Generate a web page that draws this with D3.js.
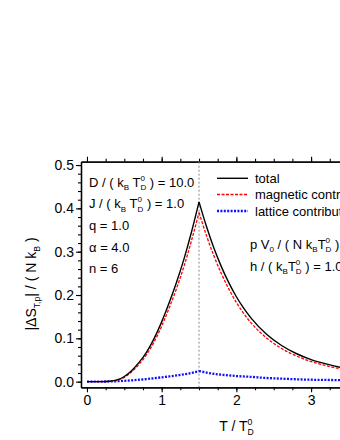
<!DOCTYPE html>
<meta charset="utf-8">
<script src="https://d3js.org/d3.v7.min.js"></script>
<style>
  body { margin: 0; background: #fff; }
  text { font-family: "Liberation Sans", Arial, sans-serif; fill: #000; }
</style>
<div id="plot_div"></div>
<script>
    // reduced temperature T / T_D^0
    var temps = [0, 0.1, 0.2, 0.3, 0.4, 0.5, 0.6, 0.7, 0.8, 0.9, 1.0, 1.1, 1.2, 1.3, 1.4, 1.5,
        1.6, 1.7, 1.8, 1.9, 2.0, 2.1, 2.2, 2.4, 2.6, 2.8, 3.0, 3.2, 3.4, 3.6, 3.8, 4.0];
    var total = [0, 0, 0, 0.001, 0.004, 0.012, 0.026, 0.045, 0.069, 0.100, 0.138, 0.182, 0.230, 0.284, 0.346, 0.415,
        0.358, 0.308, 0.265, 0.228, 0.196, 0.169, 0.146, 0.110, 0.084, 0.065, 0.051, 0.041, 0.033, 0.027, 0.023, 0.020];
    var magnetic = [0, 0, 0, 0.0005, 0.003, 0.010, 0.023, 0.0405, 0.063, 0.092, 0.128, 0.170, 0.2155, 0.267, 0.326, 0.3905,
        0.337, 0.290, 0.249, 0.2135, 0.183, 0.157, 0.135, 0.1015, 0.077, 0.0595, 0.0465, 0.037, 0.0295, 0.024, 0.0202, 0.0175];
    var lattice = [0, 0, 0.0002, 0.0005, 0.001, 0.002, 0.003, 0.0045, 0.006, 0.008, 0.010, 0.012, 0.0145, 0.017, 0.020, 0.0245,
        0.021, 0.018, 0.016, 0.0145, 0.013, 0.012, 0.011, 0.0085, 0.007, 0.0055, 0.0045, 0.004, 0.0035, 0.003, 0.0028, 0.0025];
    var t_peak = 1.5;
    var x_ticks = [0, 1, 2, 3, 4];
    var y_ticks = [0.0, 0.1, 0.2, 0.3, 0.4, 0.5];
    var legend_names = ["total", "magnetic contribution", "lattice contribution"];

    var width = 340, height = 440;
    var svg = d3.select("#plot_div").append("svg")
        .attr("width", width).attr("height", height);

    var x = d3.scaleLinear().domain([-0.08, 4.08]).range([81, 81 + 4.16 * 74.7]);
    var y = d3.scaleLinear().domain([-0.013, 0.5077]).range([387.3, 161.7]);

    function style_axis(g) {
        g.selectAll("path").attr("stroke", "#000").attr("stroke-width", 1.3);
        g.selectAll("line").attr("stroke", "#000").attr("stroke-width", 1.1);
        g.selectAll("text").attr("font-family", "Liberation Sans, Arial, sans-serif").attr("font-size", 14).attr("fill", "#000");
    }

    var x_minor = d3.range(0, 4.01, 0.25);
    var y_minor = d3.range(0, 0.501, 0.02);

    // bottom axis
    svg.append("g").attr("transform", "translate(0," + y.range()[0] + ")")
        .call(d3.axisBottom(x).tickValues(x_minor).tickSize(3).tickFormat("").tickSizeOuter(0)).call(style_axis);
    svg.append("g").attr("transform", "translate(0," + y.range()[0] + ")")
        .call(d3.axisBottom(x).tickValues(x_ticks).tickSize(5).tickPadding(3).tickFormat(d3.format("d")).tickSizeOuter(0)).call(style_axis);
    // top axis
    svg.append("g").attr("transform", "translate(0," + y.range()[1] + ")")
        .call(d3.axisTop(x).tickValues(x_minor).tickSize(3).tickFormat("").tickSizeOuter(0)).call(style_axis);
    svg.append("g").attr("transform", "translate(0," + y.range()[1] + ")")
        .call(d3.axisTop(x).tickValues(x_ticks).tickSize(5).tickFormat("").tickSizeOuter(0)).call(style_axis);
    // left axis
    svg.append("g").attr("transform", "translate(" + x.range()[0] + ",0)")
        .call(d3.axisLeft(y).tickValues(y_minor).tickSize(3).tickFormat("").tickSizeOuter(0)).call(style_axis);
    svg.append("g").attr("transform", "translate(" + x.range()[0] + ",0)")
        .call(d3.axisLeft(y).tickValues(y_ticks).tickSize(5).tickPadding(2).tickFormat(d3.format(".1f")).tickSizeOuter(0)).call(style_axis);

    // transition line
    svg.append("line")
        .attr("x1", x(t_peak)).attr("x2", x(t_peak))
        .attr("y1", y.range()[1]).attr("y2", y.range()[0])
        .attr("stroke", "#888").attr("stroke-width", 1).attr("stroke-dasharray", "2,2");

    // curves, split at the cusp so the peak stays sharp
    var peak_i = temps.indexOf(t_peak);
    function curve_path(vals) {
        var pts = temps.map(function (t, i) { return [t, vals[i]]; });
        var line = d3.line().x(function (d) { return x(d[0]); }).y(function (d) { return y(d[1]); })
            .curve(d3.curveMonotoneX);
        return line(pts.slice(0, peak_i + 1)) + line(pts.slice(peak_i));
    }
    var series = [
        { vals: lattice, color: "#1010ff", width: 2.3, dash: "2,1.4" },
        { vals: magnetic, color: "#ff0000", width: 1.3, dash: "3,1.5" },
        { vals: total, color: "#000000", width: 1.4, dash: null }
    ];
    series.forEach(function (s) {
        svg.append("path").attr("d", curve_path(s.vals))
            .attr("fill", "none").attr("stroke", s.color).attr("stroke-width", s.width)
            .attr("stroke-dasharray", s.dash);
    });

    // rich text: plain, subscript, and stacked super/subscript pieces
    function rich(parent, px, py, parts, size, anchor) {
        var g = parent.append("g");
        var cx = 0, small = size * 0.62;
        parts.forEach(function (p) {
            if (typeof p === "string") {
                var t = g.append("text").attr("x", cx).attr("y", 0).attr("font-size", size)
                    .style("white-space", "pre").text(p);
                cx += t.node().getComputedTextLength();
            } else if (p.sub !== undefined && p.sup === undefined) {
                var t = g.append("text").attr("x", cx).attr("y", size * 0.3).attr("font-size", small).text(p.sub);
                cx += t.node().getComputedTextLength();
            } else {
                var a = g.append("text").attr("x", cx).attr("y", -size * 0.45).attr("font-size", small).text(p.sup);
                var b = g.append("text").attr("x", cx).attr("y", size * 0.3).attr("font-size", small).text(p.sub);
                cx += Math.max(a.node().getComputedTextLength(), b.node().getComputedTextLength());
            }
        });
        var off = anchor === "middle" ? -cx / 2 : 0;
        g.attr("transform", "translate(" + (px + off) + "," + py + ")");
        return g;
    }
    var TD0 = { sup: "0", sub: "D" };

    // parameter block, left
    var fs = 13;
    rich(svg, 89, 186.5, ["D / ( k", { sub: "B" }, " T", TD0, " ) = 10.0"], fs);
    rich(svg, 89, 208, ["J / ( k", { sub: "B" }, " T", TD0, " ) = 1.0"], fs);
    rich(svg, 89, 229.5, ["q = 1.0"], fs);
    rich(svg, 89, 251.5, ["\u03b1 = 4.0"], fs);
    rich(svg, 89, 273, ["n = 6"], fs);

    // parameter block, right
    rich(svg, 250, 248.5, ["p V", { sub: "0" }, " / ( N k", { sub: "B" }, "T", TD0, " ) = 1.0"], fs);
    rich(svg, 250, 270.5, ["h / ( k", { sub: "B" }, "T", TD0, " ) = 1.0"], fs);

    // legend
    var leg_y = [178.3, 194.5, 211];
    var leg_order = [2, 1, 0];
    legend_names.forEach(function (name, i) {
        var s = series[leg_order[i]];
        svg.append("line").attr("x1", 217).attr("x2", 248).attr("y1", leg_y[i]).attr("y2", leg_y[i])
            .attr("stroke", s.color).attr("stroke-width", s.width).attr("stroke-dasharray", s.dash);
        svg.append("text").attr("x", 255).attr("y", leg_y[i] + 4.7).attr("font-size", fs).text(name);
    });

    // axis titles
    rich(svg, 236.5, 431, ["T / T", TD0], 14, "middle");
    var yl = svg.append("g").attr("transform", "translate(36,284) rotate(-90)");
    rich(yl, 0, 0, ["|\u0394S", { sub: "T,p" }, "| / ( N k", { sub: "B" }, " )"], 14, "middle");
</script>
